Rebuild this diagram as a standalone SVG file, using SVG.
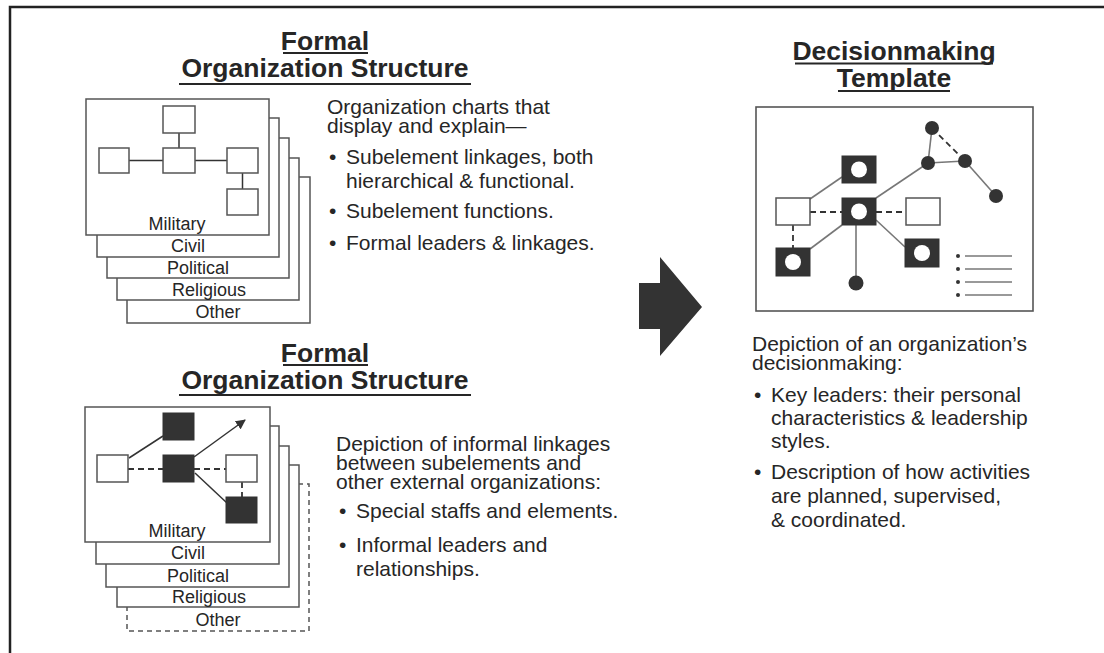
<svg xmlns="http://www.w3.org/2000/svg" width="1104" height="653" viewBox="0 0 1104 653">
<defs>
<style>
text{font-family:"Liberation Sans",Arial,sans-serif;fill:#262626}
.t{font-size:26.5px;font-weight:bold;text-anchor:middle}
.b{font-size:21px}
.lab{font-size:18px;text-anchor:middle}
.ul{stroke:#262626;stroke-width:1.8}
.pg{fill:#fff;stroke:#555;stroke-width:1.5}
.pgd{fill:#fff;stroke:#555;stroke-width:1.5;stroke-dasharray:5,4}
.wb{fill:#fff;stroke:#555;stroke-width:1.5}
.bb{fill:#333;stroke:#333;stroke-width:1}
.ln{stroke:#333;stroke-width:1.5;fill:none}
.dl{stroke:#333;stroke-width:1.8;stroke-dasharray:6,4;fill:none}
.gl{stroke:#777;stroke-width:1.6;fill:none}
.dot{fill:#333}
</style>
<marker id="ah" viewBox="0 0 10 10" refX="9" refY="5" markerWidth="10" markerHeight="10" markerUnits="userSpaceOnUse" orient="auto">
<path d="M0,0 L10,5 L0,10 Z" fill="#333"/>
</marker>
</defs>
<rect width="1104" height="653" fill="#fff"/>
<!-- frame -->
<path d="M10,653 V7 H1104" fill="none" stroke="#222" stroke-width="2.5"/>

<!-- top-left title -->
<g id="title-formal-1">
<text class="t" x="325" y="50">Formal</text>
<text class="t" x="325" y="77">Organization Structure</text>
<line class="ul" x1="283" y1="53" x2="368" y2="53"/>
<line class="ul" x1="179" y1="84" x2="471" y2="84"/>
</g>

<!-- top-left stack -->
<g id="stack-formal">
<rect class="pg" x="127" y="177" width="183" height="146"/>
<rect class="pg" x="117" y="158" width="182" height="142"/>
<rect class="pg" x="107" y="138" width="182" height="140"/>
<rect class="pg" x="97" y="118" width="182" height="139"/>
<rect class="pg" x="86" y="99" width="183" height="136"/>
<text class="lab" x="218" y="318">Other</text>
<text class="lab" x="209" y="296">Religious</text>
<text class="lab" x="198" y="274">Political</text>
<text class="lab" x="188" y="252">Civil</text>
<text class="lab" x="177" y="230">Military</text>
</g>
<g id="formal-chart-connectors">
<line class="ln" x1="179" y1="133" x2="179" y2="148"/>
<line class="ln" x1="129" y1="160.5" x2="163" y2="160.5"/>
<line class="ln" x1="195" y1="160.5" x2="227" y2="160.5"/>
<line class="ln" x1="242.5" y1="173" x2="242.5" y2="189"/>
</g>
<g id="formal-chart-nodes">
<rect class="wb" x="163" y="106" width="32" height="27"/>
<rect class="wb" x="163" y="148" width="32" height="25"/>
<rect class="wb" x="99" y="148" width="30" height="25"/>
<rect class="wb" x="227" y="148" width="31" height="25"/>
<rect class="wb" x="227" y="189" width="31" height="26"/>
</g>

<!-- top-left text -->
<g id="text-formal">
<text class="b" x="327" y="114">Organization charts that</text>
<text class="b" x="327" y="133">display and explain—</text>
<text class="b" x="329" y="164">•</text>
<text class="b" x="346" y="164">Subelement linkages, both</text>
<text class="b" x="346" y="188">hierarchical &amp; functional.</text>
<text class="b" x="329" y="218">•</text>
<text class="b" x="346" y="218">Subelement functions.</text>
<text class="b" x="329" y="250">•</text>
<text class="b" x="346" y="250">Formal leaders &amp; linkages.</text>
</g>

<!-- bottom-left title -->
<g id="title-formal-2">
<text class="t" x="325" y="362">Formal</text>
<text class="t" x="325" y="389">Organization Structure</text>
<line class="ul" x1="283" y1="365" x2="368" y2="365"/>
<line class="ul" x1="179" y1="395" x2="471" y2="395"/>
</g>

<!-- bottom-left stack -->
<g id="stack-informal">
<rect class="pgd" x="127" y="484" width="182" height="147"/>
<rect class="pg" x="117" y="465" width="182" height="142"/>
<rect class="pg" x="106" y="446" width="183" height="141"/>
<rect class="pg" x="96" y="426" width="183" height="138"/>
<rect class="pg" x="85" y="407" width="185" height="135"/>
<text class="lab" x="218" y="626">Other</text>
<text class="lab" x="209" y="603">Religious</text>
<text class="lab" x="198" y="582">Political</text>
<text class="lab" x="188" y="559">Civil</text>
<text class="lab" x="177" y="537">Military</text>
</g>
<g id="informal-chart-connectors">
<line class="ln" x1="129" y1="458" x2="163" y2="436"/>
<line class="dl" x1="128" y1="469" x2="163" y2="469"/>
<line class="dl" x1="194" y1="469" x2="226" y2="469"/>
<line class="ln" x1="194" y1="457" x2="245" y2="420" marker-end="url(#ah)"/>
<line class="ln" x1="195" y1="473" x2="227" y2="503"/>
<line class="dl" x1="242" y1="482" x2="242" y2="497"/>
</g>
<g id="informal-chart-nodes">
<rect class="wb" x="97" y="455" width="31" height="27"/>
<rect class="bb" x="163" y="413" width="31" height="27"/>
<rect class="bb" x="163" y="455" width="31" height="27"/>
<rect class="wb" x="226" y="455" width="31" height="27"/>
<rect class="bb" x="226" y="497" width="31" height="26"/>
</g>

<!-- bottom-left text -->
<g id="text-informal">
<text class="b" x="336" y="451">Depiction of informal linkages</text>
<text class="b" x="336" y="470">between subelements and</text>
<text class="b" x="336" y="489">other external organizations:</text>
<text class="b" x="339" y="518">•</text>
<text class="b" x="356" y="518">Special staffs and elements.</text>
<text class="b" x="339" y="552">•</text>
<text class="b" x="356" y="552">Informal leaders and</text>
<text class="b" x="356" y="576">relationships.</text>
</g>

<!-- big arrow -->
<g id="big-arrow">
<polygon points="639,283 660,283 660,257 702,307 660,356 660,329 639,329" fill="#333"/>
</g>

<!-- right title -->
<g id="title-decision">
<text class="t" x="894" y="60">Decisionmaking</text>
<text class="t" x="894" y="87">Template</text>
<line class="ul" x1="795" y1="63.5" x2="993" y2="63.5"/>
<line class="ul" x1="838" y1="91" x2="950" y2="91"/>
</g>

<!-- template box -->
<g id="template">
<rect x="756" y="107" width="277" height="204" fill="#fff" stroke="#555" stroke-width="1.6"/>
</g>
<g id="template-connectors">
<line class="gl" x1="876" y1="198" x2="928" y2="163"/>
<line class="gl" x1="842" y1="177" x2="810" y2="199"/>
<line class="gl" x1="842" y1="225" x2="810" y2="249"/>
<line class="gl" x1="876" y1="220" x2="905" y2="247"/>
<line class="gl" x1="856" y1="225" x2="856" y2="283"/>
<line class="dl" x1="810" y1="212" x2="842" y2="212"/>
<line class="dl" x1="876" y1="212" x2="906" y2="212"/>
<line class="dl" x1="793" y1="225" x2="793" y2="248"/>
<line class="gl" x1="932" y1="128" x2="928" y2="163"/>
<line class="gl" x1="928" y1="163" x2="965" y2="161"/>
<line class="dl" x1="932" y1="128" x2="965" y2="161"/>
<line class="gl" x1="965" y1="161" x2="996" y2="196"/>
</g>
<g id="template-nodes">
<rect class="bb" x="842" y="156" width="34" height="27"/>
<circle cx="859" cy="169.5" r="8" fill="#fff"/>
<rect class="wb" x="776" y="198" width="34" height="27"/>
<rect class="bb" x="842" y="198" width="34" height="27"/>
<circle cx="859" cy="211.5" r="8" fill="#fff"/>
<rect class="wb" x="906" y="198" width="34" height="27"/>
<rect class="bb" x="776" y="248" width="34" height="28"/>
<circle cx="793" cy="262" r="8" fill="#fff"/>
<rect class="bb" x="905" y="239" width="34" height="28"/>
<circle cx="922" cy="253" r="8" fill="#fff"/>
<circle class="dot" cx="856" cy="283" r="7.5"/>
<circle class="dot" cx="932" cy="128" r="7"/>
<circle class="dot" cx="928" cy="163" r="7"/>
<circle class="dot" cx="965" cy="161" r="7"/>
<circle class="dot" cx="996" cy="196" r="7"/>
</g>
<g id="template-list">
<circle class="dot" cx="958" cy="256" r="2"/>
<circle class="dot" cx="958" cy="269" r="2"/>
<circle class="dot" cx="958" cy="282" r="2"/>
<circle class="dot" cx="958" cy="295" r="2"/>
<line class="gl" x1="965" y1="256" x2="1012" y2="256"/>
<line class="gl" x1="965" y1="269" x2="1012" y2="269"/>
<line class="gl" x1="965" y1="282" x2="1012" y2="282"/>
<line class="gl" x1="965" y1="295" x2="1012" y2="295"/>
</g>

<!-- right text -->
<g id="text-decision">
<text class="b" x="752" y="351">Depiction of an organization’s</text>
<text class="b" x="752" y="370">decisionmaking:</text>
<text class="b" x="754" y="402">•</text>
<text class="b" x="771" y="402">Key leaders: their personal</text>
<text class="b" x="771" y="425">characteristics &amp; leadership</text>
<text class="b" x="771" y="448">styles.</text>
<text class="b" x="754" y="479">•</text>
<text class="b" x="771" y="479">Description of how activities</text>
<text class="b" x="771" y="503">are planned, supervised,</text>
<text class="b" x="771" y="527">&amp; coordinated.</text>
</g>
</svg>
